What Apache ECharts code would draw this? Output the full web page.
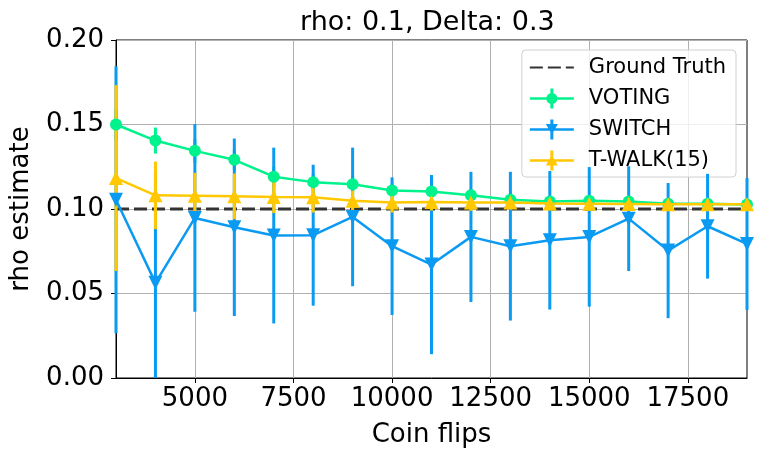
<!DOCTYPE html>
<html lang="en">
<head>
    <meta charset="UTF-8" />
    <title>rho: 0.1, Delta: 0.3</title>
    <script src="https://cdn.jsdelivr.net/npm/echarts@6/dist/echarts.min.js"></script>
    <style>
        html, body { margin: 0; padding: 0; background: #fff; }
        #main { width: 760px; height: 459px; }
    </style>
</head>
<body>
    <div id="main"></div>
    <script type="text/javascript">
        // data
        var flips = [3000, 4000, 5000, 6000, 7000, 8000, 9000, 10000, 11000, 12000, 13000, 14000, 15000, 16000, 17000, 18000, 19000];
        var groundTruth = 0.1;
        var voting = [0.150, 0.1405, 0.1344, 0.1291, 0.1191, 0.1159, 0.1146, 0.1110, 0.1103, 0.1081, 0.1055, 0.1045, 0.1049, 0.1045, 0.1031, 0.1031, 0.1026];
        var votingErr = [0.009, 0.0077, 0.007, 0.006, 0.006, 0.005, 0.005, 0.004, 0.004, 0.004, 0.004, 0.003, 0.003, 0.003, 0.003, 0.003, 0.003];
        var switchEst = [0.1055, 0.0563, 0.0947, 0.0892, 0.0843, 0.0845, 0.0953, 0.0780, 0.0671, 0.0835, 0.0780, 0.0815, 0.0835, 0.0943, 0.0754, 0.0898, 0.0793];
        var switchErr = [0.079, 0.065, 0.0555, 0.0525, 0.052, 0.0417, 0.041, 0.0407, 0.053, 0.0385, 0.044, 0.041, 0.0413, 0.031, 0.040, 0.031, 0.039];
        var twalk = [0.1183, 0.1081, 0.1079, 0.1075, 0.1071, 0.1069, 0.1049, 0.1039, 0.1041, 0.1039, 0.1039, 0.1032, 0.1031, 0.1030, 0.1028, 0.1028, 0.1028];
        var twalkErr = [0.055, 0.020, 0.0135, 0.0135, 0.0095, 0.009, 0.006, 0.006, 0.005, 0.005, 0.004, 0.004, 0.004, 0.004, 0.003, 0.003, 0.003];
        var xTicks = [5000, 7500, 10000, 12500, 15000, 17500];

        var cVoting = '#00f28c';
        var cSwitch = '#0a9af2';
        var cTwalk = '#ffc800';
        var font = 'DejaVu Sans';

        // legend icons: line + vertical error bar + marker, in a 44x20 box
        var lineBar = 'M0 8.75 H44 V11.25 H0 Z M20.5 0 H23.5 V20 H20.5 Z ';
        var iconVoting = 'path://' + lineBar + 'M16.5 10 A5.5 5.5 0 1 1 27.5 10 A5.5 5.5 0 1 1 16.5 10 Z';
        var iconSwitch = 'path://' + lineBar + 'M16 4.5 L28 4.5 L22 15 Z';
        var iconTwalk = 'path://' + lineBar + 'M22 4.5 L28 15 L16 15 Z';

        function pairs(ys) {
            return flips.map(function (x, i) { return [x, ys[i]]; });
        }

        // vertical error bars, drawn through the axes
        function errorSeries(name, ys, errs, color, z) {
            return {
                name: name + ' err',
                type: 'custom',
                z: z,
                silent: true,
                data: flips.map(function (x, i) { return [x, ys[i] - errs[i], ys[i] + errs[i]]; }),
                renderItem: function (params, api) {
                    var lo = api.coord([api.value(0), api.value(1)]);
                    var hi = api.coord([api.value(0), api.value(2)]);
                    var cs = params.coordSys;
                    var y1 = Math.min(lo[1], cs.y + cs.height);
                    var y2 = Math.max(hi[1], cs.y);
                    return {
                        type: 'line',
                        shape: { x1: lo[0], y1: y1, x2: hi[0], y2: y2 },
                        style: { stroke: color, lineWidth: 3 }
                    };
                }
            };
        }

        function lineSeries(name, ys, color, symbol, size, rotate, z) {
            return {
                name: name,
                type: 'line',
                z: z,
                data: pairs(ys),
                symbol: symbol,
                symbolSize: size,
                symbolRotate: rotate,
                showAllSymbol: true,
                clip: true,
                lineStyle: { color: color, width: 2.5 },
                itemStyle: { color: color },
                emphasis: { disabled: true }
            };
        }

        var myChart = echarts.init(document.getElementById('main'));
        var option = {
            animation: false,
            backgroundColor: '#fff',
            textStyle: { fontFamily: font },
            title: {
                text: 'rho: 0.1, Delta: 0.3',
                left: 300,
                top: 9,
                padding: 0,
                textStyle: { fontFamily: font, fontSize: 27, fontWeight: 'normal', color: '#000' }
            },
            grid: {
                left: 116, right: 13, top: 40, bottom: 81,
                show: true, borderColor: '#000', borderWidth: 1
            },
            legend: {
                right: 24,
                top: 50,
                orient: 'vertical',
                backgroundColor: 'rgba(255,255,255,0.8)',
                borderColor: '#d0d0d0',
                borderWidth: 1,
                borderRadius: 4,
                padding: [7, 10, 6, 7],
                itemWidth: 44,
                itemHeight: 20,
                itemGap: 10,
                data: [
                    { name: 'Ground Truth', itemStyle: { opacity: 0 } },
                    { name: 'VOTING', icon: iconVoting },
                    { name: 'SWITCH', icon: iconSwitch },
                    { name: 'T-WALK(15)', icon: iconTwalk }
                ],
                textStyle: { fontFamily: font, fontSize: 21, color: '#000', padding: [0, 0, 0, 10] }
            },
            xAxis: {
                type: 'value',
                min: 3000,
                max: 19000,
                name: 'Coin flips',
                nameLocation: 'middle',
                nameGap: 44,
                nameTextStyle: { fontFamily: font, fontSize: 26, color: '#000' },
                axisLine: { show: true, lineStyle: { color: '#000', width: 1 } },
                axisTick: { show: true, length: 5, customValues: xTicks, lineStyle: { color: '#000' } },
                axisLabel: {
                    customValues: xTicks, fontFamily: font, fontSize: 26, color: '#000', margin: 8,
                    formatter: function (v) { return String(v); }
                },
                splitLine: { show: true, lineStyle: { color: '#b0b0b0', width: 1 } }
            },
            yAxis: {
                type: 'value',
                min: 0,
                max: 0.2,
                interval: 0.05,
                name: 'rho estimate',
                nameLocation: 'middle',
                nameGap: 82,
                nameTextStyle: { fontFamily: font, fontSize: 26, color: '#000' },
                axisLine: { show: true, lineStyle: { color: '#000', width: 1 } },
                axisTick: { show: true, length: 5, lineStyle: { color: '#000' } },
                axisLabel: {
                    fontFamily: font, fontSize: 26, color: '#000', margin: 12,
                    formatter: function (v) { return v.toFixed(2); }
                },
                splitLine: { show: true, lineStyle: { color: '#b0b0b0', width: 1 } }
            },
            series: [
                {
                    name: 'Ground Truth',
                    type: 'line',
                    z: 3,
                    data: flips.map(function (x) { return [x, groundTruth]; }),
                    symbol: 'none',
                    lineStyle: { color: '#333', width: 3, type: [13, 5] },
                    itemStyle: { color: '#333' }
                },
                errorSeries('VOTING', voting, votingErr, cVoting, 4),
                errorSeries('SWITCH', switchEst, switchErr, cSwitch, 5),
                errorSeries('T-WALK(15)', twalk, twalkErr, cTwalk, 6),
                lineSeries('VOTING', voting, cVoting, 'circle', 12, 0, 7),
                lineSeries('SWITCH', switchEst, cSwitch, 'triangle', 14, 180, 8),
                lineSeries('T-WALK(15)', twalk, cTwalk, 'triangle', 14, 0, 9)
            ]
        };
        option && myChart.setOption(option);
    </script>
</body>
</html>
